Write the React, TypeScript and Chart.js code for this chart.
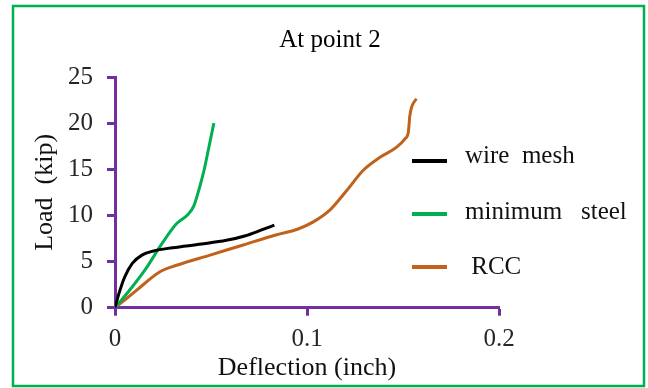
import React, { useEffect, useRef } from "react";
import { Chart, registerables } from "chart.js";

Chart.register(...registerables);

// ---- data ----
const chartTitle = "At point 2";
const xTicks = [0, 0.1, 0.2];
const yTicks = [0, 5, 10, 15, 20, 25];
const seriesNames = ["wire  mesh", "minimum   steel", " RCC"];

const wireMeshX = [0, 0.002, 0.005, 0.009, 0.014, 0.02, 0.03, 0.045, 0.058, 0.068, 0.076, 0.083];
const wireMeshY = [0, 1.5, 3.3, 4.8, 5.7, 6.15, 6.5, 6.9, 7.3, 7.8, 8.4, 8.95];

const minSteelX = [0, 0.008, 0.016, 0.024, 0.032, 0.038, 0.041, 0.044, 0.0465, 0.049, 0.0515];
const minSteelY = [0, 2.0, 4.2, 6.8, 9.1, 10.1, 11.0, 13.0, 15.0, 17.5, 20.0];

const rccX = [0, 0.006, 0.0113, 0.0234, 0.0321, 0.0495, 0.0668, 0.0842, 0.095, 0.1033, 0.112, 0.1207, 0.1293, 0.138, 0.1467, 0.151, 0.1528, 0.1535, 0.1545, 0.157];
const rccY = [0, 1.0, 1.9, 3.9, 4.6, 5.7, 6.8, 7.9, 8.5, 9.3, 10.6, 12.7, 14.9, 16.3, 17.4, 18.3, 19.05, 20.7, 21.75, 22.65];

const seriesColors = ["#000000", "#00B050", "#C0621C"];
const axisColor = "#7030A0";
const serif = '"Liberation Serif", "Times New Roman", serif';

function toPoints(xs: number[], ys: number[]) {
  return xs.map((x, i) => ({ x, y: ys[i] }));
}

const framePlugin = {
  id: "frame",
  beforeDraw(chart: any) {
    const ctx = chart.ctx;
    ctx.save();
    ctx.fillStyle = "#ffffff";
    ctx.fillRect(0, 0, chart.width, chart.height);
    ctx.strokeStyle = "#00B050";
    ctx.lineWidth = 2.5;
    ctx.strokeRect(13, 6, 631, 380);
    ctx.restore();
  },
  afterDraw(chart: any) {
    const ctx = chart.ctx;
    ctx.save();
    ctx.fillStyle = "#000000";
    ctx.font = `25px ${serif}`;
    ctx.textAlign = "center";
    ctx.textBaseline = "alphabetic";
    ctx.fillText(chartTitle, 330, 47);
    ctx.restore();
  },
};

const insetLegendPlugin = {
  id: "insetLegend",
  afterDraw(chart: any) {
    const ctx = chart.ctx;
    chart.data.datasets.forEach((ds: any, i: number) => {
      const ly = 161 + i * 53;
      ctx.save();
      ctx.strokeStyle = ds.borderColor;
      ctx.lineWidth = 4;
      ctx.beginPath();
      ctx.moveTo(412, ly);
      ctx.lineTo(447, ly);
      ctx.stroke();
      ctx.fillStyle = "#111111";
      ctx.font = `25px ${serif}`;
      ctx.textBaseline = "alphabetic";
      ctx.textAlign = "left";
      ctx.fillText(ds.label, 465, 163 + i * 55.5);
      ctx.restore();
    });
  },
};

export default function App() {
  const ref = useRef<HTMLCanvasElement | null>(null);

  useEffect(() => {
    document.body.style.margin = "0";
    const canvas = ref.current;
    if (!canvas) return;
    const xs = [wireMeshX, minSteelX, rccX];
    const ys = [wireMeshY, minSteelY, rccY];
    const chart = new Chart(canvas, {
      type: "line",
      data: {
        datasets: seriesNames.map((name, i) => ({
          label: name,
          data: toPoints(xs[i], ys[i]),
          borderColor: seriesColors[i],
          backgroundColor: seriesColors[i],
          borderWidth: 3,
          pointRadius: 0,
          cubicInterpolationMode: "monotone" as const,
          fill: false,
        })),
      },
      options: {
        animation: false,
        responsive: false,
        devicePixelRatio: 1,
        layout: { padding: { top: 77, left: 28, right: 149, bottom: 0 } },
        plugins: {
          legend: { display: false },
          tooltip: { enabled: false },
          title: { display: false },
        },
        scales: {
          x: {
            type: "linear",
            min: 0,
            max: 0.2,
            afterBuildTicks: (s: any) => {
              s.ticks = xTicks.map((v) => ({ value: v }));
            },
            afterFit: (s: any) => {
              s.height = 80.3;
            },
            ticks: {
              color: "#262626",
              padding: 9,
              font: { family: serif, size: 25 },
              callback: (v: any) => String(v),
            },
            grid: {
              drawOnChartArea: false,
              drawTicks: true,
              tickLength: 8,
              tickWidth: 3,
              tickColor: axisColor,
              color: axisColor,
            },
            border: { display: true, color: axisColor, width: 3 },
            title: {
              display: true,
              text: "Deflection (inch)",
              color: "#111111",
              font: { family: serif, size: 26 },
              padding: { top: 0, bottom: 4 },
            },
          },
          y: {
            type: "linear",
            min: 0,
            max: 25,
            afterBuildTicks: (s: any) => {
              s.ticks = yTicks.map((v) => ({ value: v }));
            },
            afterFit: (s: any) => {
              s.width = 87;
            },
            ticks: {
              color: "#262626",
              padding: 14,
              font: { family: serif, size: 25 },
              callback: (v: any) => String(v),
            },
            grid: {
              drawOnChartArea: false,
              drawTicks: true,
              tickLength: 8,
              tickWidth: 3,
              tickColor: axisColor,
              color: axisColor,
            },
            border: { display: true, color: axisColor, width: 3 },
            title: {
              display: true,
              text: "Load  (kip)",
              color: "#111111",
              font: { family: serif, size: 26 },
              padding: { top: 2, bottom: 0 },
            },
          },
        },
      },
      plugins: [framePlugin, insetLegendPlugin],
    });
    return () => chart.destroy();
  }, []);

  return <canvas ref={ref} width={648} height={388} style={{ display: "block" }} />;
}
